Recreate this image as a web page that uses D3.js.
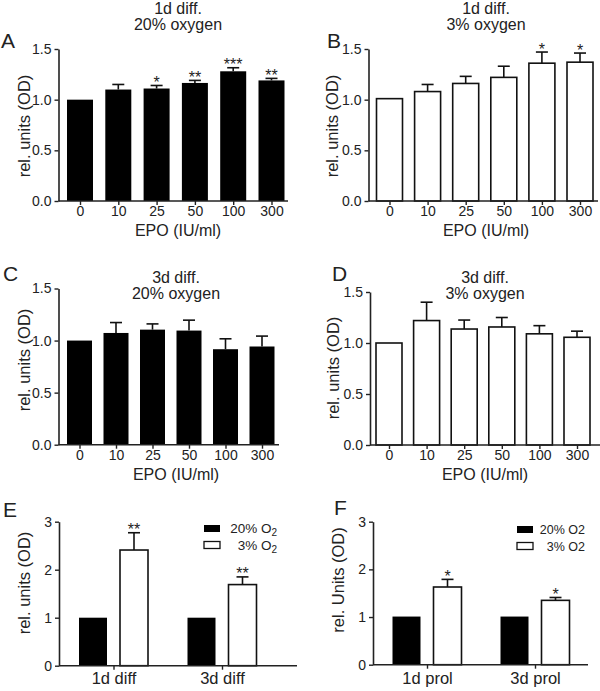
<!DOCTYPE html>
<html><head><meta charset="utf-8">
<script src="https://cdn.jsdelivr.net/npm/d3@7"></script>
<style>
html,body{margin:0;padding:0;background:#fff;}
svg text{font-family:"Liberation Sans",Arial,Helvetica,sans-serif;fill:#222;}
</style></head>
<body>
<svg id="c" width="600" height="691"></svg>
<script>
// ---------- data ----------
const epoDoses = ["0","10","25","50","100","300"];

const a_means = [1.00, 1.10, 1.11, 1.165, 1.28, 1.19];
const a_errs  = [0, 0.05, 0.03, 0.025, 0.035, 0.02];
const a_sig   = ["", "", "*", "**", "***", "**"];

const b_means = [1.01, 1.08, 1.16, 1.22, 1.36, 1.37];
const b_errs  = [0, 0.07, 0.07, 0.11, 0.11, 0.09];
const b_sig   = ["", "", "", "", "*", "*"];

const c_means = [1.00, 1.073, 1.105, 1.096, 0.917, 0.943];
const c_errs  = [0, 0.10, 0.055, 0.10, 0.10, 0.10];
const c_sig   = ["", "", "", "", "", ""];

const d_means = [1.00, 1.22, 1.137, 1.157, 1.09, 1.056];
const d_errs  = [0, 0.18, 0.088, 0.093, 0.08, 0.06];
const d_sig   = ["", "", "", "", "", ""];

const e_groups = ["1d diff", "3d diff"];
const e_o20 = [1.0, 1.0];
const e_o3 = [2.41, 1.69];
const e_o3err = [0.36, 0.16];
const e_sig = ["**", "**"];

const f_groups = ["1d prol", "3d prol"];
const f_o20 = [1.01, 1.01];
const f_o3 = [1.63, 1.35];
const f_o3err = [0.16, 0.06];
const f_sig = ["*", "*"];

const yTicksEpo = [0, 0.5, 1.0, 1.5];
const yTicksO2 = [0, 1, 2, 3];

// ---------- drawing ----------
const svg = d3.select("#c");
const INK = "#222";

function styleAxis(sel) {
  sel.selectAll("path.domain").attr("stroke", INK).attr("stroke-width", 1.6);
  sel.selectAll(".tick line").attr("stroke", INK).attr("stroke-width", 1.4);
  sel.selectAll(".tick text").attr("font-size", 14).attr("fill", INK)
     .style("font-family", '"Liberation Sans",Arial,sans-serif');
}

function yAxis(g, y, axX, ticks, fmt) {
  const ax = g.append("g").attr("transform", `translate(${axX},0)`)
    .call(d3.axisLeft(y).tickValues(ticks).tickFormat(fmt).tickSize(4).tickSizeOuter(0).tickPadding(3));
  styleAxis(ax);
}

function xAxis(g, x, y0, axX, axEnd) {
  g.append("line").attr("x1", axX).attr("x2", axEnd).attr("y1", y0).attr("y2", y0)
    .attr("stroke", INK).attr("stroke-width", 1.6);
  const ax = g.append("g").attr("transform", `translate(0,${y0})`)
    .call(d3.axisBottom(x).tickSize(4).tickSizeOuter(0).tickPadding(1.5));
  ax.select("path.domain").remove();
  styleAxis(ax);
  return ax;
}

function bars(g, items, y, barW) {
  g.selectAll(null).data(items).join("rect")
    .attr("x", d => d.cx - barW / 2)
    .attr("y", d => y(d.v))
    .attr("width", barW)
    .attr("height", d => y(0) - y(d.v))
    .attr("fill", d => d.fill)
    .attr("stroke", "#111")
    .attr("stroke-width", d => d.fill === "#fff" ? 1.6 : 0);
  const eb = items.filter(d => d.e > 0);
  g.selectAll(null).data(eb).join("line")
    .attr("x1", d => d.cx).attr("x2", d => d.cx)
    .attr("y1", d => y(d.v)).attr("y2", d => y(d.v + d.e))
    .attr("stroke", "#111").attr("stroke-width", 1.6);
  g.selectAll(null).data(eb).join("line")
    .attr("x1", d => d.cx - 6).attr("x2", d => d.cx + 6)
    .attr("y1", d => y(d.v + d.e)).attr("y2", d => y(d.v + d.e))
    .attr("stroke", "#111").attr("stroke-width", 1.6);
  g.selectAll(null).data(items.filter(d => d.s)).join("text")
    .attr("x", d => d.cx).attr("y", d => y(d.v + d.e) + 2.5)
    .attr("text-anchor", "middle").attr("font-size", 16)
    .attr("fill", "#111")
    .text(d => d.s);
}

function label(g, txt, x, y, size, anchor, rot) {
  const t = g.append("text").attr("font-size", size).attr("text-anchor", anchor || "middle").text(txt);
  if (rot) t.attr("transform", `translate(${x},${y}) rotate(-90)`);
  else t.attr("x", x).attr("y", y);
  return t;
}

function epoPanel(L, means, errs, sig, fill, titles, ylab) {
  const g = svg.append("g");
  const y = d3.scaleLinear().domain([0, 1.5]).range([L.y0, L.yTop]);
  const x = d3.scalePoint().domain(epoDoses).range([L.c0, L.c1]);
  const items = epoDoses.map((c, i) => ({cx: x(c), v: means[i], e: errs[i], s: sig[i], fill}));
  bars(g, items, y, L.barW);
  yAxis(g, y, L.axX, yTicksEpo, d3.format(".1f"));
  xAxis(g, x, L.y0, L.axX, L.axEnd);
  label(g, "EPO (IU/ml)", L.tx, L.y0 + 35, 16);
  label(g, titles[0], L.tx, L.t1, 16);
  label(g, titles[1], L.tx, L.t1 + 16, 16);
  label(g, L.letter, L.lx, L.ly, 21, "start");
  label(g, ylab, L.ylx, L.yly, 16.5, "middle", true);
}

epoPanel({y0: 201, yTop: 49, c0: 80, c1: 271.5, barW: 26, axX: 58.5, axEnd: 288,
  tx: 178, t1: 13.5, letter: "A", lx: 1, ly: 48, ylx: 30, yly: 126},
  a_means, a_errs, a_sig, "#000", ["1d diff.", "20% oxygen"], "rel. units (OD)");

epoPanel({y0: 201, yTop: 49, c0: 389.5, c1: 580, barW: 26, axX: 368.5, axEnd: 598,
  tx: 486, t1: 13.5, letter: "B", lx: 327, ly: 48, ylx: 338, yly: 126},
  b_means, b_errs, b_sig, "#fff", ["1d diff.", "3% oxygen"], "rel. units (OD)");

epoPanel({y0: 444.7, yTop: 288.5, c0: 79.5, c1: 262, barW: 25, axX: 58.5, axEnd: 279,
  tx: 176, t1: 283, letter: "C", lx: 3, ly: 281, ylx: 30, yly: 360},
  c_means, c_errs, c_sig, "#000", ["3d diff.", "20% oxygen"], "rel. units (OD)");

epoPanel({y0: 445, yTop: 292, c0: 389, c1: 577, barW: 26, axX: 370, axEnd: 600,
  tx: 485, t1: 283, letter: "D", lx: 332, ly: 281, ylx: 339, yly: 368},
  d_means, d_errs, d_sig, "#fff", ["3d diff.", "3% oxygen"], "rel. units (OD)");

function o2Panel(L, groups, o20, o3, o3err, sig, ylab, subscript) {
  const g = svg.append("g");
  const y = d3.scaleLinear().domain([0, 3]).range([L.y0, L.yTop]);
  const x = d3.scalePoint().domain(groups).range([L.c0, L.c1]);
  const xs = d3.scalePoint().domain(["20", "3"]).range([-20.5, 20.5]);
  const items = [];
  groups.forEach((gr, i) => {
    items.push({cx: x(gr) + xs("20"), v: o20[i], e: 0, s: "", fill: "#000"});
    items.push({cx: x(gr) + xs("3"), v: o3[i], e: o3err[i], s: sig[i], fill: "#fff"});
  });
  bars(g, items, y, 28);
  yAxis(g, y, L.axX, yTicksO2, d3.format("d"));
  const ax = xAxis(g, x, L.y0, L.axX, L.axEnd);
  ax.selectAll(".tick text").attr("font-size", 16.5).attr("dy", null).attr("y", 0)
    .attr("transform", `translate(0,${L.catY - L.y0})`);
  label(g, L.letter, L.lx, L.ly, 21, "start");
  label(g, ylab, L.ylx, L.yly, 16.5, "middle", true);
  const leg = [{fill: "#000", txt: "20% O", y: L.legY}, {fill: "#fff", txt: "3% O", y: L.legY + 16.5}];
  leg.forEach(d => {
    g.append("rect").attr("x", L.legX).attr("y", d.y).attr("width", 16).attr("height", 7)
      .attr("fill", d.fill).attr("stroke", "#111").attr("stroke-width", d.fill === "#fff" ? 1.3 : 0);
    const t = g.append("text").attr("x", L.legTx).attr("y", d.y + 8).attr("text-anchor", "end")
      .attr("font-size", L.legFs).text(d.txt);
    if (subscript) t.append("tspan").attr("font-size", 10).attr("dy", 3).text("2");
    else t.text(d.txt + "2");
  });
}

o2Panel({y0: 665.7, yTop: 521.7, c0: 113.5, c1: 222, axX: 59, axEnd: 297, catY: 684,
  letter: "E", lx: 3, ly: 517, ylx: 30, yly: 583, legX: 204, legY: 525, legTx: 277, legFs: 13.5},
  e_groups, e_o20, e_o3, e_o3err, e_sig, "rel. units (OD)", true);

o2Panel({y0: 664.7, yTop: 521.7, c0: 427, c1: 535, axX: 373, axEnd: 588, catY: 684,
  letter: "F", lx: 334, ly: 515, ylx: 344, yly: 580, legX: 517, legY: 526, legTx: 585, legFs: 12.5},
  f_groups, f_o20, f_o3, f_o3err, f_sig, "rel. Units (OD)", false);
</script>
</body></html>
